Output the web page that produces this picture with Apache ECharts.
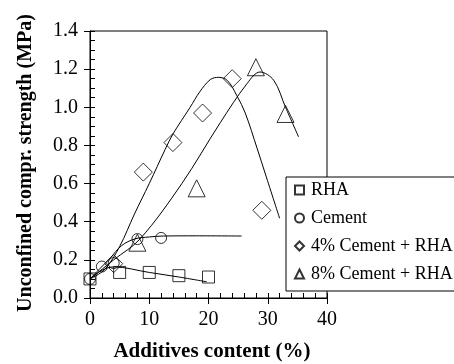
<!DOCTYPE html>
<html>
<head>
<meta charset="utf-8">
<script src="https://cdn.jsdelivr.net/npm/echarts@6/dist/echarts.min.js"></script>
<style>html,body{margin:0;padding:0;background:#fff;}#c{width:454px;height:364px;}</style>
</head>
<body>
<div id="c"></div>
<script>
// Measured points
const rhaX = [0, 5, 10, 15, 20];
const rhaY = [0.10, 0.134, 0.134, 0.117, 0.11];
const cementX = [0, 2, 4, 8, 12];
const cementY = [0.10, 0.165, 0.183, 0.309, 0.315];
const c4X = [4, 9, 14, 19, 24, 29];
const c4Y = [0.18, 0.66, 0.815, 0.97, 1.15, 0.46];
const c8X = [8, 18, 28, 33];
const c8Y = [0.29, 0.575, 1.21, 0.965];
// Fitted curves
const rhaFitX = [0, 2, 4, 10, 15, 19.7];
const rhaFitY = [0.10, 0.145, 0.163, 0.134, 0.11, 0.085];
const cementFitX = [0, 1.7, 3.4, 5.35, 7.6, 10, 12.4, 18, 25.6];
const cementFitY = [0.10, 0.155, 0.209, 0.275, 0.31, 0.32, 0.325, 0.326, 0.325];
const c4FitX = [0, 2.5, 5, 7.5, 10, 12.7, 14, 16.9, 18.5, 20.3, 21.7, 23.2, 24.8, 26.2, 28.2, 29.6, 32];
const c4FitY = [0.10, 0.15, 0.27, 0.44, 0.60, 0.78, 0.86, 1.0, 1.08, 1.145, 1.157, 1.14, 1.06, 0.97, 0.785, 0.65, 0.418];
const c8FitX = [0, 4, 8.45, 15.5, 22, 26.5, 28.7, 31, 33, 35.2];
const c8FitY = [0.10, 0.2, 0.31, 0.6, 0.92, 1.124, 1.185, 1.142, 1.0, 0.845];
const seriesNames = ['RHA', 'Cement', '4% Cement + RHA', '8% Cement + RHA'];
const xTitle = 'Additives content (%)';
const yTitle = 'Unconfined compr. strength (MPa)';

const zip = (xs, ys) => xs.map((x, i) => [x, ys[i]]);
const FONT = '"Liberation Serif", "Times New Roman", serif';
const chart = echarts.init(document.getElementById('c'), null, {renderer: 'canvas'});

const markerStyle = {color: 'transparent', borderColor: '#000', borderWidth: 1};
function scatter(name, xs, ys, symbol, size) {
  return {name, type: 'scatter', data: zip(xs, ys), symbol, symbolSize: size,
    itemStyle: markerStyle, z: 3, xAxisIndex: 0, yAxisIndex: 0};
}
function fit(xs, ys) {
  return {name: '_fit', type: 'line', data: zip(xs, ys), smooth: 0.35, showSymbol: false,
    lineStyle: {color: '#000', width: 1}, z: 2, xAxisIndex: 0, yAxisIndex: 0, silent: true};
}
const axCommon = {type: 'value', splitLine: {show: false}};
chart.setOption({
  animation: false,
  backgroundColor: '#fff',
  grid: {left: 90, top: 31, right: 127, bottom: 66, show: true, borderColor: '#000', borderWidth: 1},
  xAxis: [
    Object.assign({}, axCommon, {min: 0, max: 40, interval: 10, position: 'bottom',
      axisLine: {lineStyle: {color: '#000', width: 1}},
      axisTick: {show: true, inside: false, length: 6, lineStyle: {color: '#000'}},
      axisLabel: {color: '#000', fontFamily: FONT, fontSize: 20, margin: 12}}),
    Object.assign({}, axCommon, {min: 0, max: 40, interval: 10, position: 'bottom',
      axisLine: {show: false},
      axisTick: {show: true, inside: true, length: 5, lineStyle: {color: '#000'}},
      minorTick: {show: true, splitNumber: 5, length: 5, lineStyle: {color: '#000'}},
      axisLabel: {show: false}})
  ],
  yAxis: [
    Object.assign({}, axCommon, {min: 0, max: 1.4, interval: 0.2, position: 'left',
      axisLine: {lineStyle: {color: '#000', width: 1}},
      axisTick: {show: true, inside: false, length: 6, lineStyle: {color: '#000'}},
      axisLabel: {color: '#000', fontFamily: FONT, fontSize: 20, margin: 12,
        formatter: v => v.toFixed(1)}}),
    Object.assign({}, axCommon, {min: 0, max: 1.4, interval: 0.2, position: 'left',
      axisLine: {show: false},
      axisTick: {show: true, inside: true, length: 5, lineStyle: {color: '#000'}},
      minorTick: {show: true, splitNumber: 4, length: 5, lineStyle: {color: '#000'}},
      axisLabel: {show: false}})
  ],
  legend: {
    data: seriesNames.map((n, i) => ({name: n, icon: ['rect', 'circle', 'diamond', 'triangle'][i]})),
    orient: 'vertical', left: 286, top: 177,
    itemWidth: 9, itemHeight: 9, itemGap: 10,
    padding: [4, 40, 8, 8],
    backgroundColor: '#fff', borderColor: '#000', borderWidth: 1, borderRadius: 0,
    textStyle: {color: '#000', fontFamily: FONT, fontSize: 18, padding: [0, 0, 0, 2]},
    selectedMode: false
  },
  graphic: [
    {type: 'text', x: 212, y: 352, style: {text: xTitle, font: 'bold 21px ' + FONT, fill: '#000',
      textAlign: 'center', textVerticalAlign: 'middle'}},
    {type: 'text', x: 26, y: 163, rotation: Math.PI / 2, style: {text: yTitle, font: 'bold 20px ' + FONT,
      fill: '#000', textAlign: 'center', textVerticalAlign: 'middle'}}
  ],
  series: [
    fit(rhaFitX, rhaFitY), fit(cementFitX, cementFitY), fit(c4FitX, c4FitY), fit(c8FitX, c8FitY),
    scatter(seriesNames[0], rhaX, rhaY, 'rect', 12),
    scatter(seriesNames[1], cementX, cementY, 'circle', 11),
    scatter(seriesNames[2], c4X, c4Y, 'diamond', 18),
    scatter(seriesNames[3], c8X, c8Y, 'triangle', 17)
  ]
});
</script>
</body>
</html>
